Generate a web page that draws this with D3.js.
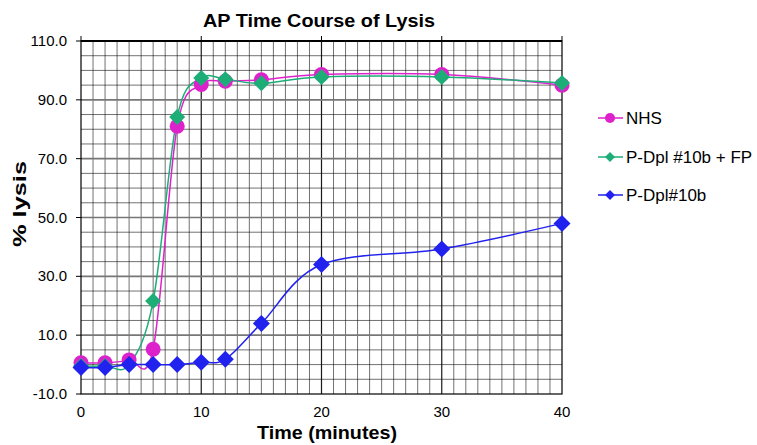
<html>
<head>
  <meta charset="utf-8">
  <script src="https://d3js.org/d3.v7.min.js"></script>
  <style>
    body { margin: 0; background: white; }
    text { font-family: "Liberation Sans", Arial, sans-serif; }
    .title { font-size: 18px; font-weight: bold; }
    .axislabel { font-size: 18px; font-weight: bold; }
    .ticklabel { font-size: 15px; fill: #000; }
    .legend text { font-size: 17px; }
  </style>
</head>
<body>
<svg id="chart" width="757" height="445"></svg>
<script>
  // sample times (minutes)
  const times = [0, 2, 4, 6, 8, 10, 12, 15, 20, 30, 40];
  // % lysis per series
  const nhs = [0.6, 0.6, 1.6, 5.2, 81, 95.2, 96.3, 96.8, 98.6, 98.6, 95];
  const dplFP = [-0.5, -0.5, 0, 21.6, 84.2, 97.4, 97, 95.6, 97.8, 97.8, 95.7];
  const dpl = [-1, -1, 0, 0, 0, 0.8, 1.8, 14, 34, 39.3, 48];
  const seriesNames = ["NHS", "P-Dpl #10b + FP", "P-Dpl#10b"];
  const yTicks = [-10, 10, 30, 50, 70, 90, 110];
  const xTicks = [0, 10, 20, 30, 40];

  const svg = d3.select("svg#chart");
  const margin = { top: 41, left: 81, right: 195, bottom: 51 };
  const width = 757, height = 445;

  const x = d3.scaleLinear().domain([0, 40]).range([margin.left, width - margin.right]);
  const y = d3.scaleLinear().domain([-10, 110]).range([height - margin.bottom, margin.top]);

  // grid: vertical every minute, horizontal every 5 %
  const grid = svg.append("g");
  grid.selectAll("line.vx").data(d3.range(1, 40))
    .join("line")
    .attr("x1", d => x(d)).attr("x2", d => x(d))
    .attr("y1", y(-10)).attr("y2", y(110))
    .attr("stroke", "#000")
    .attr("stroke-width", d => d % 10 === 0 ? 1.2 : 0.8)
    .attr("stroke-opacity", d => d % 10 === 0 ? 0.9 : 0.7);

  grid.selectAll("line.hy").data(d3.range(-5, 110, 5))
    .join("line")
    .attr("x1", x(0)).attr("x2", x(40))
    .attr("y1", d => y(d)).attr("y2", d => y(d))
    .attr("stroke", d => yTicks.includes(d) ? "#777" : "#000")
    .attr("stroke-width", d => yTicks.includes(d) ? 1.6 : 0.8)
    .attr("stroke-opacity", d => yTicks.includes(d) ? 1 : 0.7);

  // frame
  svg.append("rect")
    .attr("x", x(0)).attr("y", y(110))
    .attr("width", x(40) - x(0)).attr("height", y(-10) - y(110))
    .attr("fill", "none").attr("stroke", "#000").attr("stroke-width", 1.2);
  svg.append("line")
    .attr("x1", x(0)).attr("x2", x(40)).attr("y1", y(110)).attr("y2", y(110))
    .attr("stroke", "#000").attr("stroke-width", 2);

  // y axis
  const yAxis = svg.append("g");
  yAxis.selectAll("line").data(yTicks).join("line")
    .attr("x1", x(0) - 5).attr("x2", x(0))
    .attr("y1", d => y(d)).attr("y2", d => y(d))
    .attr("stroke", "#000");
  yAxis.selectAll("text").data(yTicks).join("text")
    .attr("class", "ticklabel")
    .attr("x", x(0) - 14).attr("y", d => y(d) + 5)
    .attr("text-anchor", "end")
    .text(d => d.toFixed(1));

  // x axis
  const xAxis = svg.append("g");
  xAxis.selectAll("line").data(xTicks).join("line")
    .attr("x1", d => x(d)).attr("x2", d => x(d))
    .attr("y1", y(110) - 5).attr("y2", y(110))
    .attr("stroke", "#000");
  xAxis.selectAll("text").data(xTicks).join("text")
    .attr("class", "ticklabel")
    .attr("x", d => x(d)).attr("y", y(-10) + 23)
    .attr("text-anchor", "middle")
    .text(d => d);

  svg.append("text").attr("class", "title")
    .attr("x", 319).attr("y", 27)
    .attr("text-anchor", "middle")
    .attr("textLength", 232).attr("lengthAdjust", "spacingAndGlyphs")
    .text("AP Time Course of Lysis");
  svg.append("text").attr("class", "axislabel")
    .attr("x", 327).attr("y", 439)
    .attr("text-anchor", "middle")
    .attr("textLength", 140).attr("lengthAdjust", "spacingAndGlyphs")
    .text("Time (minutes)");
  svg.append("text").attr("class", "axislabel")
    .attr("transform", `translate(26,204)rotate(-90)`)
    .attr("text-anchor", "middle")
    .attr("textLength", 86).attr("lengthAdjust", "spacingAndGlyphs")
    .text("% lysis");

  const series = [
    { name: seriesNames[0], values: nhs, color: "#DD22CC", shape: "circle", size: 7.5 },
    { name: seriesNames[1], values: dplFP, color: "#1DAE78", shape: "diamond", size: 8 },
    { name: seriesNames[2], values: dpl, color: "#2222EE", shape: "diamond", size: 8.5 }
  ];

  const line = d3.line().x(d => x(d[0])).y(d => y(d[1])).curve(d3.curveCardinal.tension(0));

  function marker(g, s, cx, cy, r) {
    if (s.shape === "circle") {
      g.append("circle").attr("cx", cx).attr("cy", cy).attr("r", r).attr("fill", s.color);
    } else {
      g.append("path")
        .attr("d", `M${cx},${cy - r}L${cx + r},${cy}L${cx},${cy + r}L${cx - r},${cy}Z`)
        .attr("fill", s.color);
    }
  }

  series.forEach(s => {
    const pts = times.map((t, i) => [t, s.values[i]]);
    svg.append("path").attr("d", line(pts))
      .attr("fill", "none").attr("stroke", s.color).attr("stroke-width", 1.5);
  });
  series.forEach(s => {
    const g = svg.append("g");
    times.forEach((t, i) => marker(g, s, x(t), y(s.values[i]), s.size));
  });

  // legend
  const legend = svg.append("g").attr("class", "legend");
  const legendY = [118, 157, 195];
  series.forEach((s, i) => {
    legend.append("line")
      .attr("x1", 598).attr("x2", 623).attr("y1", legendY[i]).attr("y2", legendY[i])
      .attr("stroke", s.color).attr("stroke-width", 1.5);
    marker(legend, s, 610, legendY[i], 5);
    legend.append("text").attr("x", 626).attr("y", legendY[i] + 6).text(s.name);
  });
</script>
</body>
</html>
